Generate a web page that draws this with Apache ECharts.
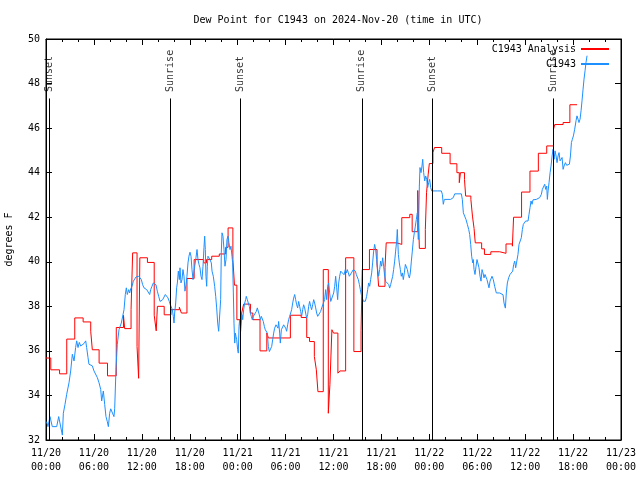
<!DOCTYPE html>
<html>
<head>
<meta charset="utf-8">
<script src="https://cdn.jsdelivr.net/npm/echarts@6/dist/echarts.min.js"></script>
<style>html,body{margin:0;padding:0;background:#fff}#chart{width:640px;height:480px}</style>
</head>
<body>
<div id="chart"></div>
<script>
// x values are hours since 2024-11-20 00:00 UTC
const titleText = 'Dew Point for C1943 on 2024-Nov-20 (time in UTC)';
const yAxisTitle = 'degrees F';
const xMinHour = 0, xMaxHour = 72, xStepHour = 6;
const yMinVal = 32, yMaxVal = 50, yStepVal = 2;
const sunHours = [0.4, 15.6, 24.35, 39.55, 48.33, 63.53];
const sunNames = ['Sunset', 'Sunrise', 'Sunset', 'Sunrise', 'Sunset', 'Sunrise'];
const sunLineTop = 47.33;
const seriesNames = ['C1943 Analysis', 'C1943'];

const analysisPts = [
[0.0,35.68],[0.6,35.15],[1.7,34.97],[2.6,36.53],[3.6,37.48],[4.65,37.3],[5.6,36.88],[5.8,36.05],
[6.65,35.45],[7.7,34.88],[8.8,37.05],[9.7,37.6],[9.85,37.0],[10.65,37.85],[10.85,40.4],[11.4,36.2],
[11.6,34.77],[11.75,40.18],[12.7,39.97],[13.55,37.6],[13.8,36.9],[13.95,38.0],[14.8,37.62],[15.65,37.85],
[16.7,37.96],[16.95,37.7],[17.65,39.25],[18.55,40.1],[19.75,39.95],[20.1,40.1],[20.75,40.25],[21.7,40.35],
[22.5,40.65],[22.8,41.52],[23.4,40.1],[23.6,38.95],[23.9,37.4],[24.5,37.7],[24.75,38.1],[25.6,37.7],
[25.9,37.4],[26.8,36.0],[27.65,36.8],[27.85,36.58],[30.6,37.6],[31.95,37.5],[32.65,36.6],[33.0,36.42],
[33.6,35.75],[33.85,35.15],[34.05,34.17],[34.72,39.65],[35.35,33.2],[35.55,34.5],[35.8,36.95],[36.0,36.8],
[36.55,35.0],[36.8,35.1],[37.52,40.18],[38.55,35.97],[39.45,36.9],[39.6,39.65],[40.5,40.55],[41.45,39.9],
[41.65,38.9],[42.45,39.75],[42.6,40.85],[43.9,40.78],[44.55,41.98],[45.55,42.13],[45.85,41.35],[46.55,43.2],
[46.75,40.6],[47.5,41.45],[47.65,43.1],[47.85,43.9],[48.0,44.41],[48.45,44.9],[48.65,45.13],[49.55,44.87],
[50.6,44.4],[51.45,44.0],[51.75,43.55],[51.9,44.0],[52.4,43.7],[52.55,42.95],[53.2,42.8],[53.4,42.05],
[53.6,41.5],[53.75,40.85],[54.55,40.58],[54.9,40.33],[55.7,40.45],[56.8,40.38],[57.6,40.8],[58.4,40.7],
[58.55,42.0],[59.55,43.13],[60.6,44.07],[61.65,44.87],[62.7,45.2],[63.55,45.95],[63.7,46.16],[64.75,46.25],
[65.6,47.05],[66.5,47.05]
];

const observedPts = [
[0.08,32.82],[0.25,32.6],[0.5,33.05],[0.79,32.6],[1.34,32.6],[1.59,33.05],[1.84,33.05],[1.92,32.45],[2.05,32.22],
[2.17,33.2],[2.38,33.6],[2.59,34.05],[2.88,34.57],[3.09,35.1],[3.3,35.85],[3.51,35.55],[3.71,36.15],[3.84,36.45],
[4.01,36.15],[4.17,36.38],[4.34,36.22],[4.55,36.22],[4.76,36.33],[4.97,36.45],[5.09,36.15],[5.26,35.7],[5.38,35.4],
[5.59,35.48],[5.8,35.33],[6.01,35.1],[6.22,35.03],[6.43,34.8],[6.64,34.57],[6.85,34.27],[6.97,33.75],[7.18,34.2],
[7.35,33.6],[7.51,33.05],[7.68,32.82],[7.81,32.6],[7.97,33.2],[8.1,33.4],[8.31,33.4],[8.51,33.05],[8.6,33.4],
[8.77,35.25],[8.93,36.3],[9.14,36.95],[9.43,37.25],[9.77,37.85],[9.93,38.53],[10.06,38.83],[10.18,38.53],[10.35,38.75],
[10.48,38.6],[10.6,38.78],[10.77,38.9],[10.94,39.13],[11.1,39.2],[11.27,39.32],[11.44,39.38],[11.61,39.35],[11.77,39.35],
[11.94,39.2],[12.1,38.97],[12.27,38.83],[12.44,38.78],[12.61,38.75],[12.77,38.68],[12.98,38.53],[13.11,38.75],[13.27,38.9],
[13.44,39.05],[13.61,39.13],[13.77,38.97],[13.94,38.68],[14.11,38.45],[14.28,38.22],[14.44,38.22],[14.61,38.3],[14.78,38.38],
[14.94,38.53],[15.11,38.6],[15.27,38.38],[15.44,38.22],[15.57,38.07],[15.69,38.0],[15.82,37.85],[15.94,37.55],[16.03,37.25],
[16.11,37.7],[16.24,38.15],[16.36,38.83],[16.45,39.05],[16.57,39.58],[16.7,39.2],[16.78,39.73],[16.9,39.05],[17.03,39.2],
[17.15,39.65],[17.28,39.35],[17.4,38.68],[17.53,38.97],[17.65,39.35],[17.78,39.95],[17.9,40.25],[18.03,40.43],[18.16,40.25],
[18.28,39.65],[18.41,39.2],[18.53,39.58],[18.66,39.5],[18.78,40.18],[18.91,40.55],[19.03,40.1],[19.16,39.88],[19.28,39.73],
[19.41,39.35],[19.53,39.2],[19.66,39.8],[19.78,40.63],[19.87,41.15],[19.95,40.55],[20.03,39.35],[20.12,38.9],[20.2,39.8],
[20.28,40.25],[20.37,40.18],[20.53,40.1],[20.7,39.95],[20.79,39.58],[20.95,39.35],[21.12,38.9],[21.25,38.45],[21.37,37.93],
[21.5,37.25],[21.62,36.88],[21.83,36.88],[21.87,38.3],[21.95,40.4],[22.04,41.3],[22.16,41.15],[22.29,40.55],[22.41,39.8],
[22.54,40.1],[22.66,41.0],[22.79,41.15],[22.91,40.85],[23.04,40.55],[23.16,40.7],[23.29,40.25],[23.37,39.95],[23.46,38.6],
[23.54,37.25],[23.63,36.35],[23.71,36.8],[23.79,36.65],[23.88,36.5],[24.0,36.05],[24.08,35.9],[24.17,37.1],[24.25,37.4],
[24.37,36.88],[24.46,37.25],[24.54,37.62],[24.63,37.4],[24.75,37.85],[24.88,38.15],[25.0,38.3],[25.08,38.45],[25.21,38.3],
[25.33,38.15],[25.46,38.0],[25.58,37.7],[25.71,37.55],[25.83,37.4],[25.96,37.55],[26.08,37.47],[26.21,37.62],[26.33,37.77],
[26.46,37.93],[26.58,37.85],[26.71,37.62],[26.84,37.4],[26.96,37.55],[27.09,37.47],[27.21,37.32],[27.34,37.1],[27.46,36.95],
[27.71,36.8],[27.84,36.2],[27.97,35.97],[28.13,35.97],[28.26,36.2],[28.38,36.5],[28.51,36.8],[28.63,37.02],[28.8,37.17],
[28.93,37.25],[29.05,37.02],[29.13,37.32],[29.26,36.8],[29.34,36.35],[29.47,36.95],[29.63,37.02],[29.76,37.17],[29.88,37.25],
[30.01,37.02],[30.13,36.88],[30.26,37.17],[30.38,37.4],[30.51,37.55],[30.64,37.62],[30.76,37.85],[30.89,38.15],[31.01,38.37],
[31.14,38.53],[31.26,38.3],[31.39,38.07],[31.51,37.93],[31.64,38.22],[31.76,38.0],[31.89,37.77],[32.01,37.55],[32.14,37.85],
[32.26,38.07],[32.39,37.93],[32.51,37.7],[32.64,37.47],[32.76,37.62],[32.89,38.0],[33.01,38.22],[33.14,38.0],[33.26,37.85],
[33.39,38.07],[33.52,38.3],[33.64,38.15],[33.77,37.93],[33.89,37.7],[34.02,37.55],[34.14,37.55],[34.27,37.62],[34.39,37.77],
[34.52,37.93],[34.64,38.0],[34.77,37.93],[34.89,38.3],[35.02,38.75],[35.15,38.3],[35.27,38.9],[35.4,39.05],[35.52,38.6],
[35.65,38.22],[35.77,38.15],[35.89,38.3],[36.02,38.6],[36.15,38.9],[36.27,39.35],[36.4,38.83],[36.52,38.3],[36.65,39.05],
[36.77,39.35],[36.9,39.58],[37.02,39.65],[37.32,39.42],[37.48,39.65],[37.61,39.5],[37.73,39.65],[37.86,39.5],[37.98,39.35],
[38.11,39.42],[38.24,39.5],[38.36,39.58],[38.48,39.65],[38.61,39.65],[38.74,39.58],[38.86,39.42],[38.99,39.35],[39.11,39.2],
[39.24,38.98],[39.36,38.75],[39.49,38.52],[39.61,38.45],[39.73,38.23],[39.86,38.3],[39.99,38.23],[40.15,38.45],[40.28,38.75],
[40.4,39.05],[40.53,38.9],[40.65,39.2],[40.78,39.5],[40.9,39.95],[41.03,40.48],[41.15,40.78],[41.28,40.55],[41.4,40.1],
[41.53,39.65],[41.65,39.35],[41.78,39.65],[41.9,40.03],[42.03,39.8],[42.16,40.18],[42.28,39.8],[42.41,39.35],[42.53,39.12],
[42.66,39.05],[42.78,39.12],[42.91,38.98],[43.03,38.82],[43.16,38.98],[43.28,39.05],[43.41,39.35],[43.53,39.65],[43.66,40.03],
[43.78,40.48],[43.91,40.93],[43.99,41.45],[44.12,40.33],[44.24,39.95],[44.37,39.65],[44.49,39.35],[44.62,39.5],[44.74,39.2],
[44.87,39.5],[45.0,39.88],[45.12,39.8],[45.25,39.65],[45.37,39.42],[45.5,39.27],[45.62,39.5],[45.75,40.03],[45.87,40.48],
[46.0,41.0],[46.12,41.3],[46.25,41.6],[46.37,41.9],[46.5,42.2],[46.62,41.0],[46.75,43.4],[46.83,44.23],[46.96,44.0],
[47.08,44.3],[47.17,44.6],[47.29,44.0],[47.42,43.63],[47.54,43.85],[47.67,43.7],[47.79,43.33],[47.92,43.55],[48.04,43.7],
[48.17,43.33],[48.3,43.18],[49.0,43.18],[49.5,43.18],[49.63,43.03],[49.75,42.58],[49.88,42.8],[50.67,42.8],[51.0,42.88],
[51.18,43.05],[52.01,43.05],[52.13,42.8],[52.26,42.2],[52.42,42.05],[52.59,41.9],[52.76,41.68],[52.93,41.45],[53.05,41.23],
[53.18,40.78],[53.3,40.25],[53.43,39.95],[53.51,40.1],[53.6,39.65],[53.72,39.43],[53.85,39.8],[53.97,40.1],[54.1,40.1],
[54.22,39.73],[54.35,39.35],[54.47,39.13],[54.6,39.65],[54.72,39.5],[54.85,39.28],[54.97,39.43],[55.1,39.35],[55.22,39.2],
[55.35,39.13],[55.47,38.83],[55.6,39.13],[55.85,39.35],[56.01,39.2],[56.18,38.9],[56.39,38.6],[56.6,38.57],[56.81,38.6],
[57.02,38.6],[57.23,38.52],[57.35,38.15],[57.52,37.92],[57.64,38.6],[57.77,39.05],[57.93,39.28],[58.1,39.43],[58.27,39.47],
[58.44,39.58],[58.56,39.88],[58.69,40.03],[58.81,39.73],[58.94,39.8],[59.1,40.33],[59.23,40.78],[59.35,40.7],[59.52,41.08],
[59.65,41.45],[59.77,41.68],[59.94,41.6],[60.06,41.83],[60.23,41.75],[60.36,41.83],[60.48,42.13],[60.61,42.43],[60.73,42.73],
[60.86,42.58],[60.98,42.78],[61.19,42.8],[61.4,42.8],[61.61,42.8],[61.82,42.88],[62.03,43.03],[62.15,43.25],[62.28,43.33],
[62.45,43.48],[62.57,43.25],[62.7,43.4],[62.78,42.8],[62.87,43.18],[62.99,43.55],[63.12,44.0],[63.24,44.3],[63.37,44.75],
[63.49,45.05],[63.62,44.6],[63.74,44.98],[63.87,44.75],[63.99,44.45],[64.12,44.75],[64.24,44.9],[64.37,44.53],[64.5,44.6],
[64.62,44.68],[64.75,44.15],[64.87,44.3],[65.04,44.45],[65.2,44.33],[65.37,44.33],[65.54,44.38],[65.67,44.75],[65.79,45.35],
[65.91,45.5],[66.04,45.65],[66.2,45.95],[66.37,46.33],[66.49,46.55],[66.62,46.4],[66.74,46.25],[66.87,46.4],[67.0,46.78],
[67.12,47.23],[67.25,47.75],[67.37,48.2],[67.5,48.58],[67.62,48.95],[67.75,49.25]
];

const FONT = 'DejaVu Sans Mono';
const pad2 = n => (n < 10 ? '0' : '') + n;
function xLabel(h) {
  const d = 20 + Math.floor(h / 24 + 1e-9);
  const hh = Math.round(h - (d - 20) * 24);
  return '11/' + d + '\n' + pad2(hh) + ':00';
}

const chart = echarts.init(document.getElementById('chart'), null, {renderer: 'canvas'});
const tickStyle = {color: '#000', width: 1};
const xCommon = {
  type: 'value', min: xMinHour, max: xMaxHour, interval: xStepHour,
  splitLine: {show: false},
  axisLine: {show: true, onZero: false, lineStyle: tickStyle},
  axisTick: {show: true, inside: true, length: 6, lineStyle: tickStyle},
  minorTick: {show: true, splitNumber: 3, length: 3, lineStyle: tickStyle}
};
const yCommon = {
  type: 'value', min: yMinVal, max: yMaxVal, interval: yStepVal,
  splitLine: {show: false},
  axisLine: {show: true, onZero: false, lineStyle: tickStyle},
  axisTick: {show: true, inside: true, length: 6, lineStyle: tickStyle}
};

chart.setOption({
  animation: false,
  backgroundColor: '#fff',
  textStyle: {fontFamily: FONT},
  title: {
    text: titleText, left: 333, top: 10, textAlign: 'center',
    textStyle: {fontFamily: FONT, fontSize: 10, fontWeight: 'normal', color: '#000'}
  },
  legend: {
    data: seriesNames, orient: 'vertical', right: 26, top: 38, align: 'right',
    itemWidth: 28, itemHeight: 2, itemGap: 3, icon: 'rect',
    textStyle: {fontFamily: FONT, fontSize: 10, color: '#000', lineHeight: 12}
  },
  grid: {left: 46, right: 19, top: 39, bottom: 40, show: true, borderColor: '#000', borderWidth: 1,
    containLabel: false, outerBoundsMode: 'none'},
  xAxis: [
    Object.assign({}, xCommon, {
      position: 'bottom',
      axisLabel: {show: true, formatter: xLabel, margin: 6, lineHeight: 14,
        fontFamily: FONT, fontSize: 10, color: '#000', showMinLabel: true, showMaxLabel: true}
    }),
    Object.assign({}, xCommon, {position: 'top', axisLabel: {show: false}})
  ],
  yAxis: [
    Object.assign({}, yCommon, {
      position: 'left',
      name: yAxisTitle, nameLocation: 'middle', nameGap: 32,
      nameTextStyle: {fontFamily: FONT, fontSize: 10, color: '#000'},
      axisLabel: {show: true, margin: 6, fontFamily: FONT, fontSize: 10, color: '#000'}
    }),
    Object.assign({}, yCommon, {position: 'right', axisLabel: {show: false}})
  ],
  series: [
    {
      name: 'sun', type: 'scatter', xAxisIndex: 0, yAxisIndex: 0,
      data: sunHours.map((h, i) => ({value: [h, sunLineTop], name: sunNames[i]})),
      symbolSize: 1, itemStyle: {color: 'rgba(0,0,0,0)'},
      label: {show: true, position: 'top', distance: 6, rotate: 90, align: 'left', verticalAlign: 'middle',
        formatter: p => p.name, fontFamily: FONT, fontSize: 10, color: '#000'},
      markLine: {
        silent: true, symbol: ['none', 'none'], animation: false,
        label: {show: false},
        lineStyle: {color: '#000', width: 1, type: 'solid'},
        data: sunHours.map(h => [{coord: [h, yMinVal]}, {coord: [h, sunLineTop]}])
      },
      z: 1
    },
    {
      name: seriesNames[0], type: 'line', step: 'end', data: analysisPts,
      showSymbol: false, symbol: 'none', color: '#ff0000',
      lineStyle: {color: '#ff0000', width: 1}, z: 2
    },
    {
      name: seriesNames[1], type: 'line', data: observedPts,
      showSymbol: false, symbol: 'none', color: '#1e90ff',
      lineStyle: {color: '#1e90ff', width: 1}, z: 3
    }
  ]
});
</script>
</body>
</html>
